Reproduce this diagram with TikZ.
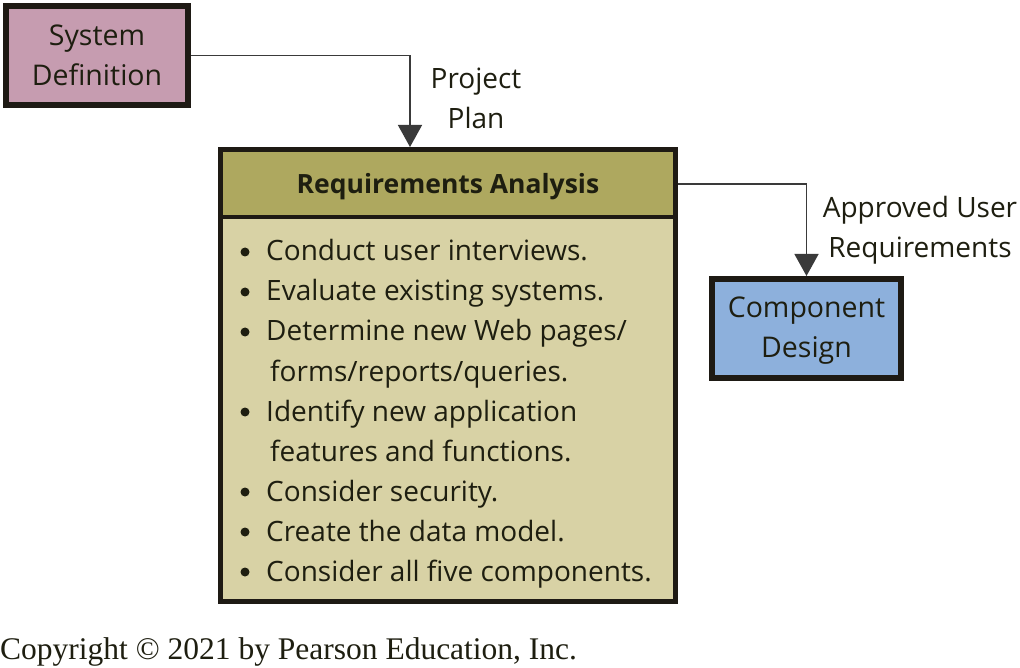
\documentclass[tikz,border=0pt]{standalone}
\usepackage{fontspec}
\setmainfont{Open Sans}
\newfontfamily\copyfont{Liberation Serif}
\usetikzlibrary{arrows.meta}
\definecolor{pinkfill}{HTML}{C69CB0}
\definecolor{headfill}{HTML}{AEA85F}
\definecolor{bodyfill}{HTML}{D8D2A5}
\definecolor{bluefill}{HTML}{8DB0DC}
\definecolor{edge}{HTML}{1E1A14}
\definecolor{conn}{HTML}{3A3A3A}
\definecolor{txt}{HTML}{1E1E10}
\tikzset{
  box/.style={draw=edge, line width=6pt, inner sep=0pt, align=center, font=\fontsize{28.5}{40}\selectfont, text=txt},
  conn/.style={draw=conn, line width=1.4pt, -{Triangle[length=22pt,width=24pt]}},
  lbl/.style={align=center, font=\fontsize{28}{40}\selectfont, text=txt, inner sep=0pt},
  itm/.style={anchor=base west, font=\fontsize{28}{30}\selectfont, text=txt, inner sep=0pt},
  bul/.style={circle, fill=txt, inner sep=0pt, minimum size=9pt},
}
\begin{document}
\begin{tikzpicture}[x=1pt,y=-1pt]
\useasboundingbox[fill=white] (0,0) rectangle (1020,668);
% System Definition
\node[box, fill=pinkfill, minimum width=182pt, minimum height=99pt] (sd) at (97,55.5) {System\\Definition};
% Main box
\node[box, line width=5pt, fill=bodyfill, minimum width=455pt, minimum height=452pt] (ra) at (448,375.5) {};
\fill[headfill] ([xshift=2.5pt,yshift=-2.5pt]ra.north west) rectangle (673,217);
\draw[edge, line width=4pt] (220.5,217) -- (675.5,217);
\draw[edge, line width=5pt] (ra.north west) ++(2.5pt,-2.5pt) rectangle (675.5,601.5);
\node[font=\fontsize{26.5}{30}\selectfont\bfseries, text=txt] (rah) at (448,186.5) {Requirements Analysis};
% Component Design
\node[box, fill=bluefill, minimum width=189pt, minimum height=99pt] (cd) at (806.5,328.5) {};
\node[lbl, font=\fontsize{28.5}{40}\selectfont] (cdt) at (806.5,331) {Component\\Design};
% connectors
\draw[conn] (sd.east) -| (410,147) coordinate (pp);
\coordinate (raE) at (678,184);
\draw[conn] (raE) -| (cd.north);
% labels
\node[lbl] (ppl) at (476,98) {Project\\Plan};
\node[lbl] (aul) at (920,230) {Approved User\\Requirements};
% bullets
\foreach \y/\t [count=\i] in {261/{Conduct user interviews.}, 301/{Evaluate existing systems.}, 341/{Determine new Web pages/}, 421/{Identify new application}, 501/{Consider security.}, 541/{Create the data model.}, 581/{Consider all five components.}}{
  \node[bul] (b\i) at (245,\y-9) {};
  \node[itm] (t\i) at (266,\y) {\t};
}
\node[itm] (t3b) at (270,381) {forms/reports/queries.};
\node[itm] (t4b) at (270,461) {features and functions.};
% copyright
\node[anchor=base west, inner sep=0pt, font=\copyfont\fontsize{31.5}{34}\selectfont, text=txt] (cr) at (0,659) {Copyright © 2021 by Pearson Education, Inc.};
\end{tikzpicture}
\end{document}
